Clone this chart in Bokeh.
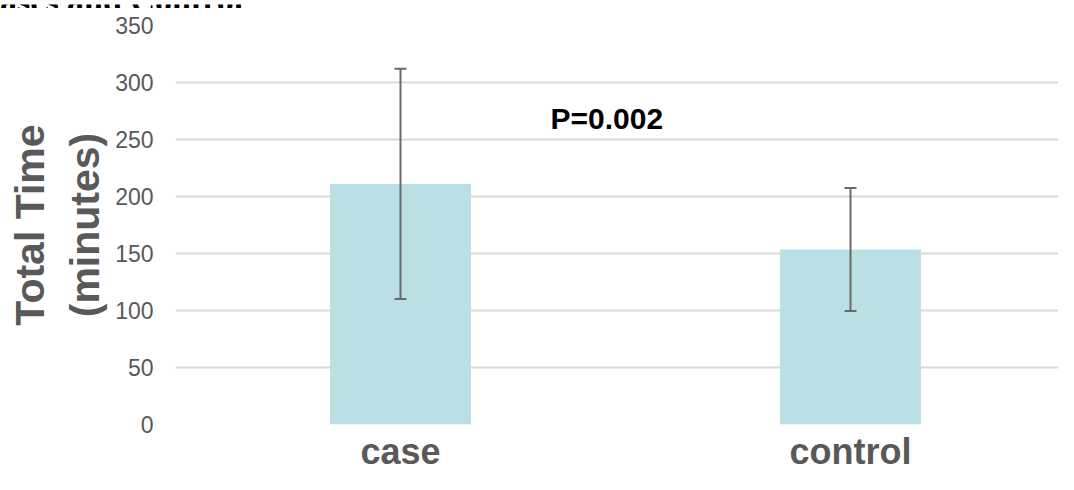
from bokeh.plotting import figure
from bokeh.models import ColumnDataSource, Range1d, FixedTicker, Whisker, Label, TeeHead
from bokeh.layouts import column
from bokeh.embed import file_html
from bokeh.resources import INLINE

# ---- data ----
groups = ["case", "control"]
mean_minutes = [211, 153.5]
sd_minutes = [101, 54]
y_ticks = [0, 50, 100, 150, 200, 250, 300, 350]
p_value_text = "P=0.002"
title_text = "Cases and Control"
y_label_text = "Total Time\n(minutes)"

xs = list(range(len(groups)))
src = ColumnDataSource(dict(
    x=xs, top=mean_minutes,
    upper=[m + s for m, s in zip(mean_minutes, sd_minutes)],
    lower=[m - s for m, s in zip(mean_minutes, sd_minutes)],
))

# ---- thin strip showing the bottom of the (cut-off) title ----
t = figure(width=1058, height=8, output_backend="svg", toolbar_location=None,
           x_range=Range1d(0, 1058), y_range=Range1d(0, 8),
           min_border_left=0, min_border_right=0, min_border_top=0, min_border_bottom=0)
t.frame_align = False
t.axis.visible = False
t.grid.visible = False
t.outline_line_color = None
t.background_fill_color = "white"
t.border_fill_color = "white"
t.add_layout(Label(x=-25, y=12.5, text=title_text, text_font="Liberation Serif",
                   text_font_style="bold", text_font_size="34px", text_color="black",
                   text_align="left", text_baseline="middle"))

# ---- main chart ----
p = figure(width=1058, height=466, output_backend="svg", toolbar_location=None,
           x_range=Range1d(-0.5, 1.4622), y_range=Range1d(0, 350),
           min_border_left=175, min_border_right=0, min_border_top=17, min_border_bottom=49)
p.frame_align = False
p.outline_line_color = None
p.background_fill_color = "white"
p.border_fill_color = "white"

p.vbar(x="x", top="top", width=0.313, source=src, fill_color="#bae0e3", line_color=None)

w = Whisker(base="x", upper="upper", lower="lower", source=src, level="annotation",
            line_color="#6a6a6a", line_width=2,
            upper_head=TeeHead(size=12, line_color="#6a6a6a", line_width=2),
            lower_head=TeeHead(size=12, line_color="#6a6a6a", line_width=2))
p.add_layout(w)

p.yaxis.ticker = FixedTicker(ticks=y_ticks)
p.yaxis.axis_line_color = None
p.yaxis.major_tick_line_color = None
p.yaxis.minor_tick_line_color = None
p.yaxis.major_tick_out = 0
p.yaxis.major_tick_in = 0
p.yaxis.major_label_standoff = 22
p.yaxis.major_label_text_font = "Liberation Sans"
p.yaxis.major_label_text_font_size = "23px"
p.yaxis.major_label_text_color = "#595959"
p.yaxis.axis_label = y_label_text
p.yaxis.axis_label_text_font = "Liberation Sans"
p.yaxis.axis_label_text_font_style = "bold"
p.yaxis.axis_label_text_font_size = "41px"
p.yaxis.axis_label_text_color = "#595959"
p.yaxis.axis_label_standoff = 4

p.xaxis.ticker = FixedTicker(ticks=xs)
p.xaxis.major_label_overrides = {i: g for i, g in zip(xs, groups)}
p.xaxis.axis_line_color = None
p.xaxis.major_tick_line_color = None
p.xaxis.minor_tick_line_color = None
p.xaxis.major_tick_out = 0
p.xaxis.major_tick_in = 0
p.xaxis.major_label_standoff = 6
p.xaxis.major_label_text_font = "Liberation Sans"
p.xaxis.major_label_text_font_style = "bold"
p.xaxis.major_label_text_font_size = "36px"
p.xaxis.major_label_text_color = "#595959"

p.xgrid.grid_line_color = None
p.ygrid.ticker = FixedTicker(ticks=y_ticks)
p.ygrid.grid_line_color = "#d9d9d9"
p.ygrid.grid_line_width = 2

p.add_layout(Label(x=0.3333, y=268.6, text=p_value_text, text_font="Liberation Sans",
                   text_font_style="bold", text_font_size="30px", text_color="black",
                   text_align="left", text_baseline="alphabetic"))

layout = column(t, p, spacing=0)
open("out.html", "w").write(file_html(layout, INLINE))
